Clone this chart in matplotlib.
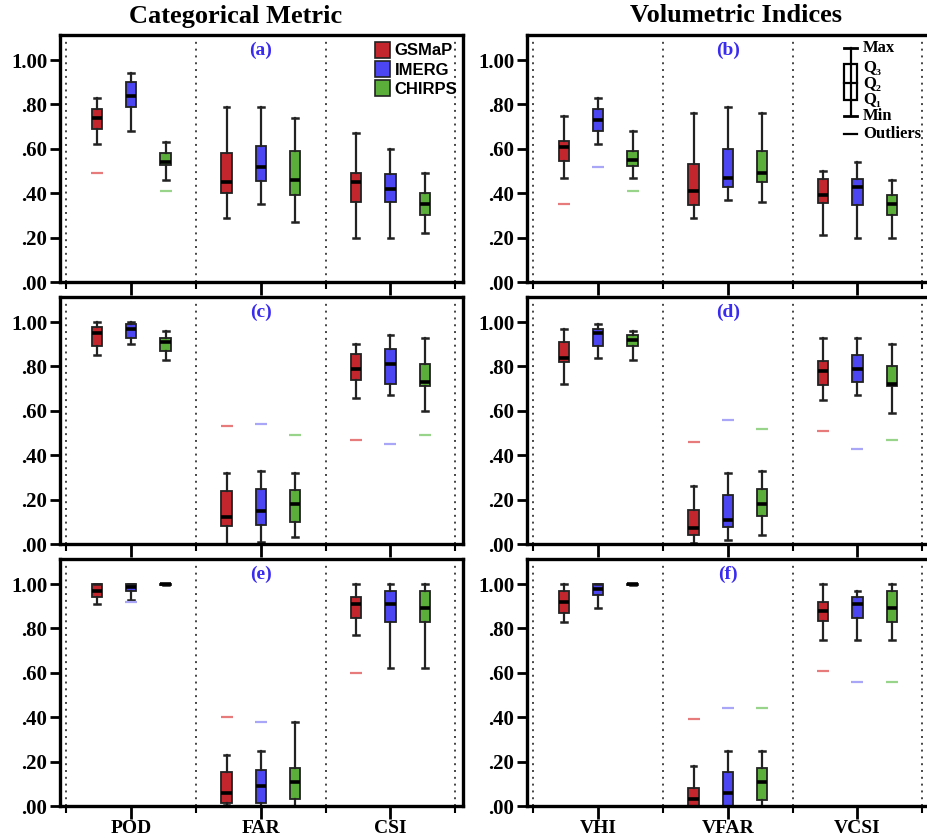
import numpy as np
import matplotlib
matplotlib.use('Agg')
import matplotlib.pyplot as plt
from matplotlib.patches import Patch, Rectangle
from matplotlib.lines import Line2D

# each box: [min, q1, median, q3, max] for the three metrics of a panel
products = ['GSMaP', 'IMERG', 'CHIRPS']
metrics_left = ['POD', 'FAR', 'CSI']
metrics_right = ['VHI', 'VFAR', 'VCSI']

a_gsmap = [[0.62, 0.69, 0.74, 0.78, 0.83], [0.29, 0.40, 0.45, 0.58, 0.79], [0.20, 0.36, 0.45, 0.49, 0.67]]
a_imerg = [[0.68, 0.79, 0.84, 0.90, 0.94], [0.35, 0.455, 0.52, 0.615, 0.79], [0.20, 0.36, 0.42, 0.485, 0.60]]
a_chirps = [[0.46, 0.525, 0.54, 0.58, 0.63], [0.27, 0.39, 0.46, 0.59, 0.74], [0.22, 0.30, 0.35, 0.40, 0.49]]
a_out = [[[0.49], [], []], [[], [], []], [[0.41], [], []]]

b_gsmap = [[0.47, 0.545, 0.61, 0.636, 0.75], [0.29, 0.345, 0.41, 0.53, 0.76], [0.21, 0.355, 0.39, 0.465, 0.50]]
b_imerg = [[0.62, 0.68, 0.73, 0.78, 0.83], [0.37, 0.43, 0.47, 0.60, 0.79], [0.20, 0.345, 0.43, 0.465, 0.54]]
b_chirps = [[0.47, 0.523, 0.55, 0.59, 0.68], [0.36, 0.45, 0.49, 0.59, 0.76], [0.20, 0.30, 0.35, 0.39, 0.46]]
b_out = [[[0.35], [], []], [[0.52], [], []], [[0.41], [], []]]

c_gsmap = [[0.85, 0.89, 0.95, 0.98, 1.00], [0.00, 0.08, 0.12, 0.24, 0.32], [0.66, 0.74, 0.79, 0.855, 0.90]]
c_imerg = [[0.90, 0.93, 0.97, 0.99, 1.00], [0.01, 0.085, 0.15, 0.25, 0.33], [0.67, 0.72, 0.81, 0.88, 0.94]]
c_chirps = [[0.83, 0.87, 0.91, 0.93, 0.96], [0.03, 0.10, 0.18, 0.245, 0.32], [0.60, 0.71, 0.73, 0.81, 0.93]]
c_out = [[[], [0.53], [0.47]], [[], [0.54], [0.45]], [[], [0.49], [0.49]]]

d_gsmap = [[0.72, 0.82, 0.84, 0.91, 0.97], [0.005, 0.04, 0.07, 0.155, 0.26], [0.65, 0.715, 0.78, 0.825, 0.93]]
d_imerg = [[0.84, 0.89, 0.95, 0.97, 0.99], [0.02, 0.077, 0.11, 0.22, 0.32], [0.67, 0.73, 0.79, 0.85, 0.93]]
d_chirps = [[0.83, 0.89, 0.92, 0.94, 0.96], [0.04, 0.125, 0.18, 0.25, 0.33], [0.59, 0.71, 0.72, 0.80, 0.90]]
d_out = [[[], [0.46], [0.51]], [[], [0.56], [0.43]], [[], [0.52], [0.47]]]

e_gsmap = [[0.91, 0.94, 0.97, 1.00, 1.00], [0.005, 0.015, 0.06, 0.155, 0.23], [0.77, 0.845, 0.91, 0.94, 1.00]]
e_imerg = [[0.93, 0.97, 0.985, 1.00, 1.00], [0.00, 0.015, 0.09, 0.16, 0.25], [0.62, 0.83, 0.91, 0.97, 1.00]]
e_chirps = [[0.995, 0.995, 1.00, 1.00, 1.00], [0.00, 0.03, 0.11, 0.17, 0.38], [0.62, 0.83, 0.89, 0.97, 1.00]]
e_out = [[[], [0.40], [0.60]], [[0.92], [0.38], []], [[], [], []]]

f_gsmap = [[0.83, 0.87, 0.92, 0.97, 1.00], [0.00, 0.00, 0.03, 0.08, 0.18], [0.75, 0.835, 0.88, 0.92, 1.00]]
f_imerg = [[0.89, 0.95, 0.98, 1.00, 1.00], [0.00, 0.00, 0.06, 0.155, 0.25], [0.75, 0.845, 0.91, 0.94, 0.97]]
f_chirps = [[0.995, 0.995, 1.00, 1.00, 1.00], [0.00, 0.027, 0.11, 0.17, 0.25], [0.75, 0.83, 0.89, 0.97, 1.00]]
f_out = [[[], [0.39], [0.61]], [[], [0.44], [0.56]], [[], [0.44], [0.56]]]

panels = [
    ('(a)', [a_gsmap, a_imerg, a_chirps], a_out),
    ('(b)', [b_gsmap, b_imerg, b_chirps], b_out),
    ('(c)', [c_gsmap, c_imerg, c_chirps], c_out),
    ('(d)', [d_gsmap, d_imerg, d_chirps], d_out),
    ('(e)', [e_gsmap, e_imerg, e_chirps], e_out),
    ('(f)', [f_gsmap, f_imerg, f_chirps], f_out),
]

colors = ['#C4262E', '#4C46F2', '#5CAE3A']
out_colors = ['#E77B7B', '#A9A6F8', '#98D58A']
offsets = [-0.265, 0.0, 0.265]

SERIF = ['Liberation Serif', 'DejaVu Serif']
plt.rcParams['font.family'] = SERIF
plt.rcParams['font.weight'] = 'bold'

fig = plt.figure(figsize=(9.28, 8.39), dpi=100)
W, H = 928.0, 839.0
lefts = [60, 527]
tops = [35, 297, 559]
axw, axh = 403, 247


def draw_panel(ax, label, boxes, outliers, xlabels, bottom):
    for i, (data, col, ocol, off) in enumerate(zip(boxes, colors, out_colors, offsets)):
        stats = []
        for m, s in enumerate(data):
            stats.append(dict(whislo=s[0], q1=s[1], med=s[2], q3=s[3], whishi=s[4],
                              fliers=np.array(outliers[i][m])))
        pos = [m + off for m in range(3)]
        ax.bxp(stats, positions=pos, widths=0.08, capwidths=0.045, patch_artist=True,
               showfliers=True,
               boxprops=dict(facecolor=col, edgecolor='#222222', linewidth=1.3),
               whiskerprops=dict(color='#222222', linewidth=1.6),
               capprops=dict(color='#222222', linewidth=1.8),
               medianprops=dict(color='black', linewidth=2.6, solid_capstyle='butt'),
               flierprops=dict(marker='_', markeredgecolor=ocol, markersize=8,
                               markeredgewidth=1.6, linestyle='none'))
    for xb in [-0.5, 0.5, 1.5, 2.5]:
        ax.axvline(xb, color='#444444', linestyle=(0, (1, 2.5)), linewidth=1.4, zorder=0)
    ax.set_xlim(-0.55, 2.56)
    ax.set_ylim(0, 1.113)
    ax.set_yticks([0, 0.2, 0.4, 0.6, 0.8, 1.0])
    ax.set_yticklabels(['.00', '.20', '.40', '.60', '.80', '1.00'])
    ax.set_xticks([0, 1, 2])
    ax.set_xticks([-0.5, 0.5, 1.5, 2.5], minor=True)
    if bottom:
        ax.set_xticklabels(xlabels, fontsize=14, fontweight='bold')
    else:
        ax.set_xticklabels([])
    ax.tick_params(axis='both', which='major', direction='out', length=7, width=2,
                   labelsize=15, pad=2)
    ax.tick_params(axis='x', which='minor', direction='out', length=5, width=1.5)
    ax.tick_params(axis='x', which='major', length=9, labelsize=14, pad=1)
    for sp in ax.spines.values():
        sp.set_linewidth(2.4)
    ax.text(1, 1.045, label, color='#3A2BF0', fontsize=14, fontweight='bold',
            ha='center', va='center')


for k, (label, boxes, outliers) in enumerate(panels):
    row, colidx = k // 2, k % 2
    x0 = lefts[colidx] / W
    y0 = 1 - (tops[row] + axh) / H
    ax = fig.add_axes([x0, y0, axw / W, axh / H])
    xl = metrics_left if colidx == 0 else metrics_right
    draw_panel(ax, label, boxes, outliers, xl, row == 2)

    if label == '(a)':
        handles = [Patch(facecolor=c, edgecolor='#222222', linewidth=1.2) for c in colors]
        ax.legend(handles, products, loc='upper right', frameon=False,
                  handlelength=0.9, handleheight=1.1, handletextpad=0.3,
                  labelspacing=0.15, borderaxespad=0.3, bbox_to_anchor=(1.015, 1.02),
                  prop=dict(family=['Liberation Sans', 'DejaVu Sans'], size=12))
    if label == '(b)':
        tr = ax.transAxes
        bx, bw = 0.803, 0.032
        ax.add_line(Line2D([bx, bx], [0.672, 0.947], color='black', lw=1.6, transform=tr))
        ax.add_line(Line2D([bx - bw / 2, bx + bw / 2], [0.947, 0.947], color='black', lw=2, transform=tr))
        ax.add_line(Line2D([bx - bw / 2, bx + bw / 2], [0.672, 0.672], color='black', lw=2, transform=tr))
        ax.add_patch(Rectangle((bx - bw / 2, 0.737), bw, 0.146, facecolor='white',
                               edgecolor='black', lw=1.6, transform=tr))
        ax.add_line(Line2D([bx - bw / 2, bx + bw / 2], [0.806, 0.806], color='black', lw=1.6, transform=tr))
        ax.add_line(Line2D([bx - bw / 2, bx + bw / 2], [0.599, 0.599], color='black', lw=1.6, transform=tr))
        lx = 0.834
        for txt, yy in [('Max', 0.947), ('Q\u2083', 0.866), ('Q\u2082', 0.80),
                        ('Q\u2081', 0.737), ('Min', 0.672), ('Outliers', 0.599)]:
            ax.text(lx, yy, txt, transform=tr, fontsize=12, fontweight='bold',
                    va='center', ha='left')

fig.text(236 / W, 1 - 16 / H, 'Categorical Metric', ha='center', va='center',
         fontsize=19, fontweight='bold')
fig.text(736 / W, 1 - 16 / H, 'Volumetric Indices', ha='center', va='center',
         fontsize=19, fontweight='bold')

fig.savefig('out.png', dpi=100)
